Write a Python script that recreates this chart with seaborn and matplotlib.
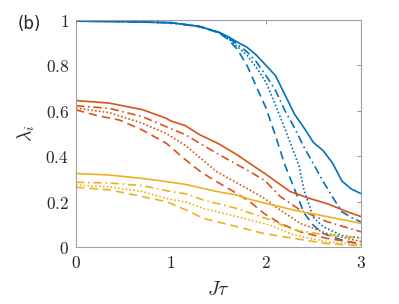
import pandas as pd
import seaborn as sns
from matplotlib import pyplot as plt

# curves: (x, y) per colour group and line style
blue_solid_x = [0, 0.5, 1.0, 1.3, 1.5, 1.6, 1.7, 1.8, 1.9, 2.0, 2.1, 2.2, 2.3, 2.4, 2.5, 2.6, 2.7, 2.75, 2.8, 2.9, 3.0]
blue_solid_y = [0.995, 0.993, 0.988, 0.972, 0.947, 0.927, 0.902, 0.88, 0.845, 0.80, 0.755, 0.67, 0.585, 0.525, 0.46, 0.425, 0.37, 0.33, 0.29, 0.255, 0.235]
blue_dashdot_x = [0, 0.5, 1.0, 1.3, 1.5, 1.6, 1.7, 1.8, 1.9, 2.0, 2.1, 2.2, 2.3, 2.4, 2.5, 2.6, 2.7, 2.8, 2.9, 3.0]
blue_dashdot_y = [0.995, 0.993, 0.988, 0.972, 0.946, 0.923, 0.892, 0.86, 0.815, 0.755, 0.69, 0.60, 0.525, 0.44, 0.365, 0.29, 0.22, 0.155, 0.13, 0.11]
blue_dotted_x = [0, 0.5, 1.0, 1.3, 1.5, 1.6, 1.7, 1.8, 1.9, 2.0, 2.1, 2.2, 2.3, 2.35, 2.4, 2.5, 2.6, 2.8, 3.0]
blue_dotted_y = [0.995, 0.993, 0.988, 0.971, 0.945, 0.92, 0.882, 0.845, 0.79, 0.725, 0.625, 0.52, 0.41, 0.354, 0.25, 0.13, 0.09, 0.05, 0.04]
blue_dashed_x = [0, 0.5, 1.0, 1.3, 1.5, 1.6, 1.7, 1.8, 1.9, 2.0, 2.1, 2.2, 2.3, 2.4, 2.5, 2.6, 2.8, 3.0]
blue_dashed_y = [0.995, 0.993, 0.988, 0.97, 0.944, 0.915, 0.87, 0.80, 0.705, 0.612, 0.49, 0.36, 0.255, 0.15, 0.095, 0.06, 0.03, 0.01]

orange_solid_x = [0, 0.35, 0.7, 0.95, 1.0, 1.15, 1.3, 1.5, 1.7, 1.85, 2.0, 2.15, 2.25, 2.45, 2.65, 2.85, 3.0]
orange_solid_y = [0.645, 0.634, 0.605, 0.567, 0.555, 0.535, 0.495, 0.455, 0.405, 0.362, 0.32, 0.275, 0.245, 0.215, 0.19, 0.156, 0.134]
orange_dashdot_x = [0, 0.35, 0.7, 0.91, 1.15, 1.48, 1.83, 1.99, 2.15, 2.36, 2.64, 3.0]
orange_dashdot_y = [0.622, 0.611, 0.574, 0.537, 0.495, 0.413, 0.332, 0.292, 0.222, 0.163, 0.112, 0.067]
orange_dotted_x = [0, 0.35, 0.7, 0.95, 1.15, 1.48, 1.83, 1.99, 2.15, 2.36, 2.64, 3.0]
orange_dotted_y = [0.612, 0.592, 0.545, 0.5, 0.448, 0.332, 0.251, 0.212, 0.163, 0.104, 0.06, 0.024]
orange_dashed_x = [0, 0.21, 0.46, 0.7, 0.95, 1.15, 1.31, 1.48, 1.66, 1.83, 1.97, 2.15, 2.36, 2.64, 3.0]
orange_dashed_y = [0.604, 0.58, 0.559, 0.515, 0.457, 0.385, 0.332, 0.288, 0.244, 0.2, 0.15, 0.104, 0.067, 0.038, 0.015]

yellow_solid_x = [0, 0.35, 0.7, 0.95, 1.15, 1.34, 1.5, 1.69, 1.83, 2.04, 2.29, 2.64, 3.0]
yellow_solid_y = [0.324, 0.317, 0.302, 0.288, 0.276, 0.258, 0.243, 0.229, 0.21, 0.188, 0.163, 0.134, 0.104]
yellow_dashdot_x = [0, 0.35, 0.7, 0.99, 1.16, 1.34, 1.69, 2.04, 2.29, 2.64, 3.0]
yellow_dashdot_y = [0.285, 0.282, 0.27, 0.245, 0.234, 0.207, 0.17, 0.12, 0.075, 0.053, 0.038]
yellow_dotted_x = [0, 0.35, 0.7, 0.99, 1.16, 1.34, 1.69, 2.04, 2.29, 2.64, 3.0]
yellow_dotted_y = [0.273, 0.265, 0.244, 0.21, 0.198, 0.17, 0.134, 0.097, 0.053, 0.023, 0.01]
yellow_dashed_x = [0, 0.35, 0.7, 0.95, 1.16, 1.34, 1.69, 1.97, 2.29, 2.64, 3.0]
yellow_dashed_y = [0.263, 0.252, 0.222, 0.2, 0.163, 0.126, 0.09, 0.06, 0.038, 0.015, 0.005]

x_ticks = [0, 1, 2, 3]
y_ticks = [0, 0.2, 0.4, 0.6, 0.8, 1]
y_tick_labels = ["0", "0.2", "0.4", "0.6", "0.8", "1"]

curves = {
    ("blue", "solid"): (blue_solid_x, blue_solid_y),
    ("blue", "dashdot"): (blue_dashdot_x, blue_dashdot_y),
    ("blue", "dotted"): (blue_dotted_x, blue_dotted_y),
    ("blue", "dashed"): (blue_dashed_x, blue_dashed_y),
    ("orange", "solid"): (orange_solid_x, orange_solid_y),
    ("orange", "dashdot"): (orange_dashdot_x, orange_dashdot_y),
    ("orange", "dotted"): (orange_dotted_x, orange_dotted_y),
    ("orange", "dashed"): (orange_dashed_x, orange_dashed_y),
    ("yellow", "solid"): (yellow_solid_x, yellow_solid_y),
    ("yellow", "dashdot"): (yellow_dashdot_x, yellow_dashdot_y),
    ("yellow", "dotted"): (yellow_dotted_x, yellow_dotted_y),
    ("yellow", "dashed"): (yellow_dashed_x, yellow_dashed_y),
}

rows = []
for (group, style), (xs, ys) in curves.items():
    for x, y in zip(xs, ys):
        rows.append({"x": x, "y": y, "group": group, "style": style})
df = pd.DataFrame(rows)

palette = {"blue": "#0072BD", "orange": "#D95319", "yellow": "#EDB120"}
dashes = {"solid": "", "dashdot": (5, 2.2, 1, 2.2), "dotted": (1, 1.3), "dashed": (5, 3)}

sns.set_style("white")
plt.rcParams["mathtext.fontset"] = "cm"
plt.rcParams["font.family"] = ["DejaVu Sans"]

fig = plt.figure(figsize=(3.99, 3.04), dpi=100)
ax = fig.add_axes([0.1905, 0.1875, 0.7143, 0.7467])

sns.lineplot(data=df, x="x", y="y", hue="group", style="style", palette=palette,
             dashes=dashes, estimator=None, sort=True, linewidth=1.2, legend=False, ax=ax)

ax.set_xlim(0, 3)
ax.set_ylim(0, 1)
ax.set_xticks(x_ticks)
ax.set_xticklabels([f"${t}$" for t in x_ticks])
ax.set_yticks(y_ticks)
ax.set_yticklabels([f"${t}$" for t in y_tick_labels])
ax.tick_params(direction="in", length=3, width=0.6, color="#808080", labelsize=12.5,
               top=True, right=True, pad=5)
for sp in ax.spines.values():
    sp.set_color("#a0a0a0")
    sp.set_linewidth(0.8)
ax.set_xlabel(r"$J\tau$", fontsize=14, labelpad=6)
ax.set_ylabel(r"$\lambda_i$", fontsize=14, labelpad=6)
fig.text(0.045, 0.95, "(b)", fontsize=12, ha="left", va="top")

fig.savefig("out.png", dpi=100)
